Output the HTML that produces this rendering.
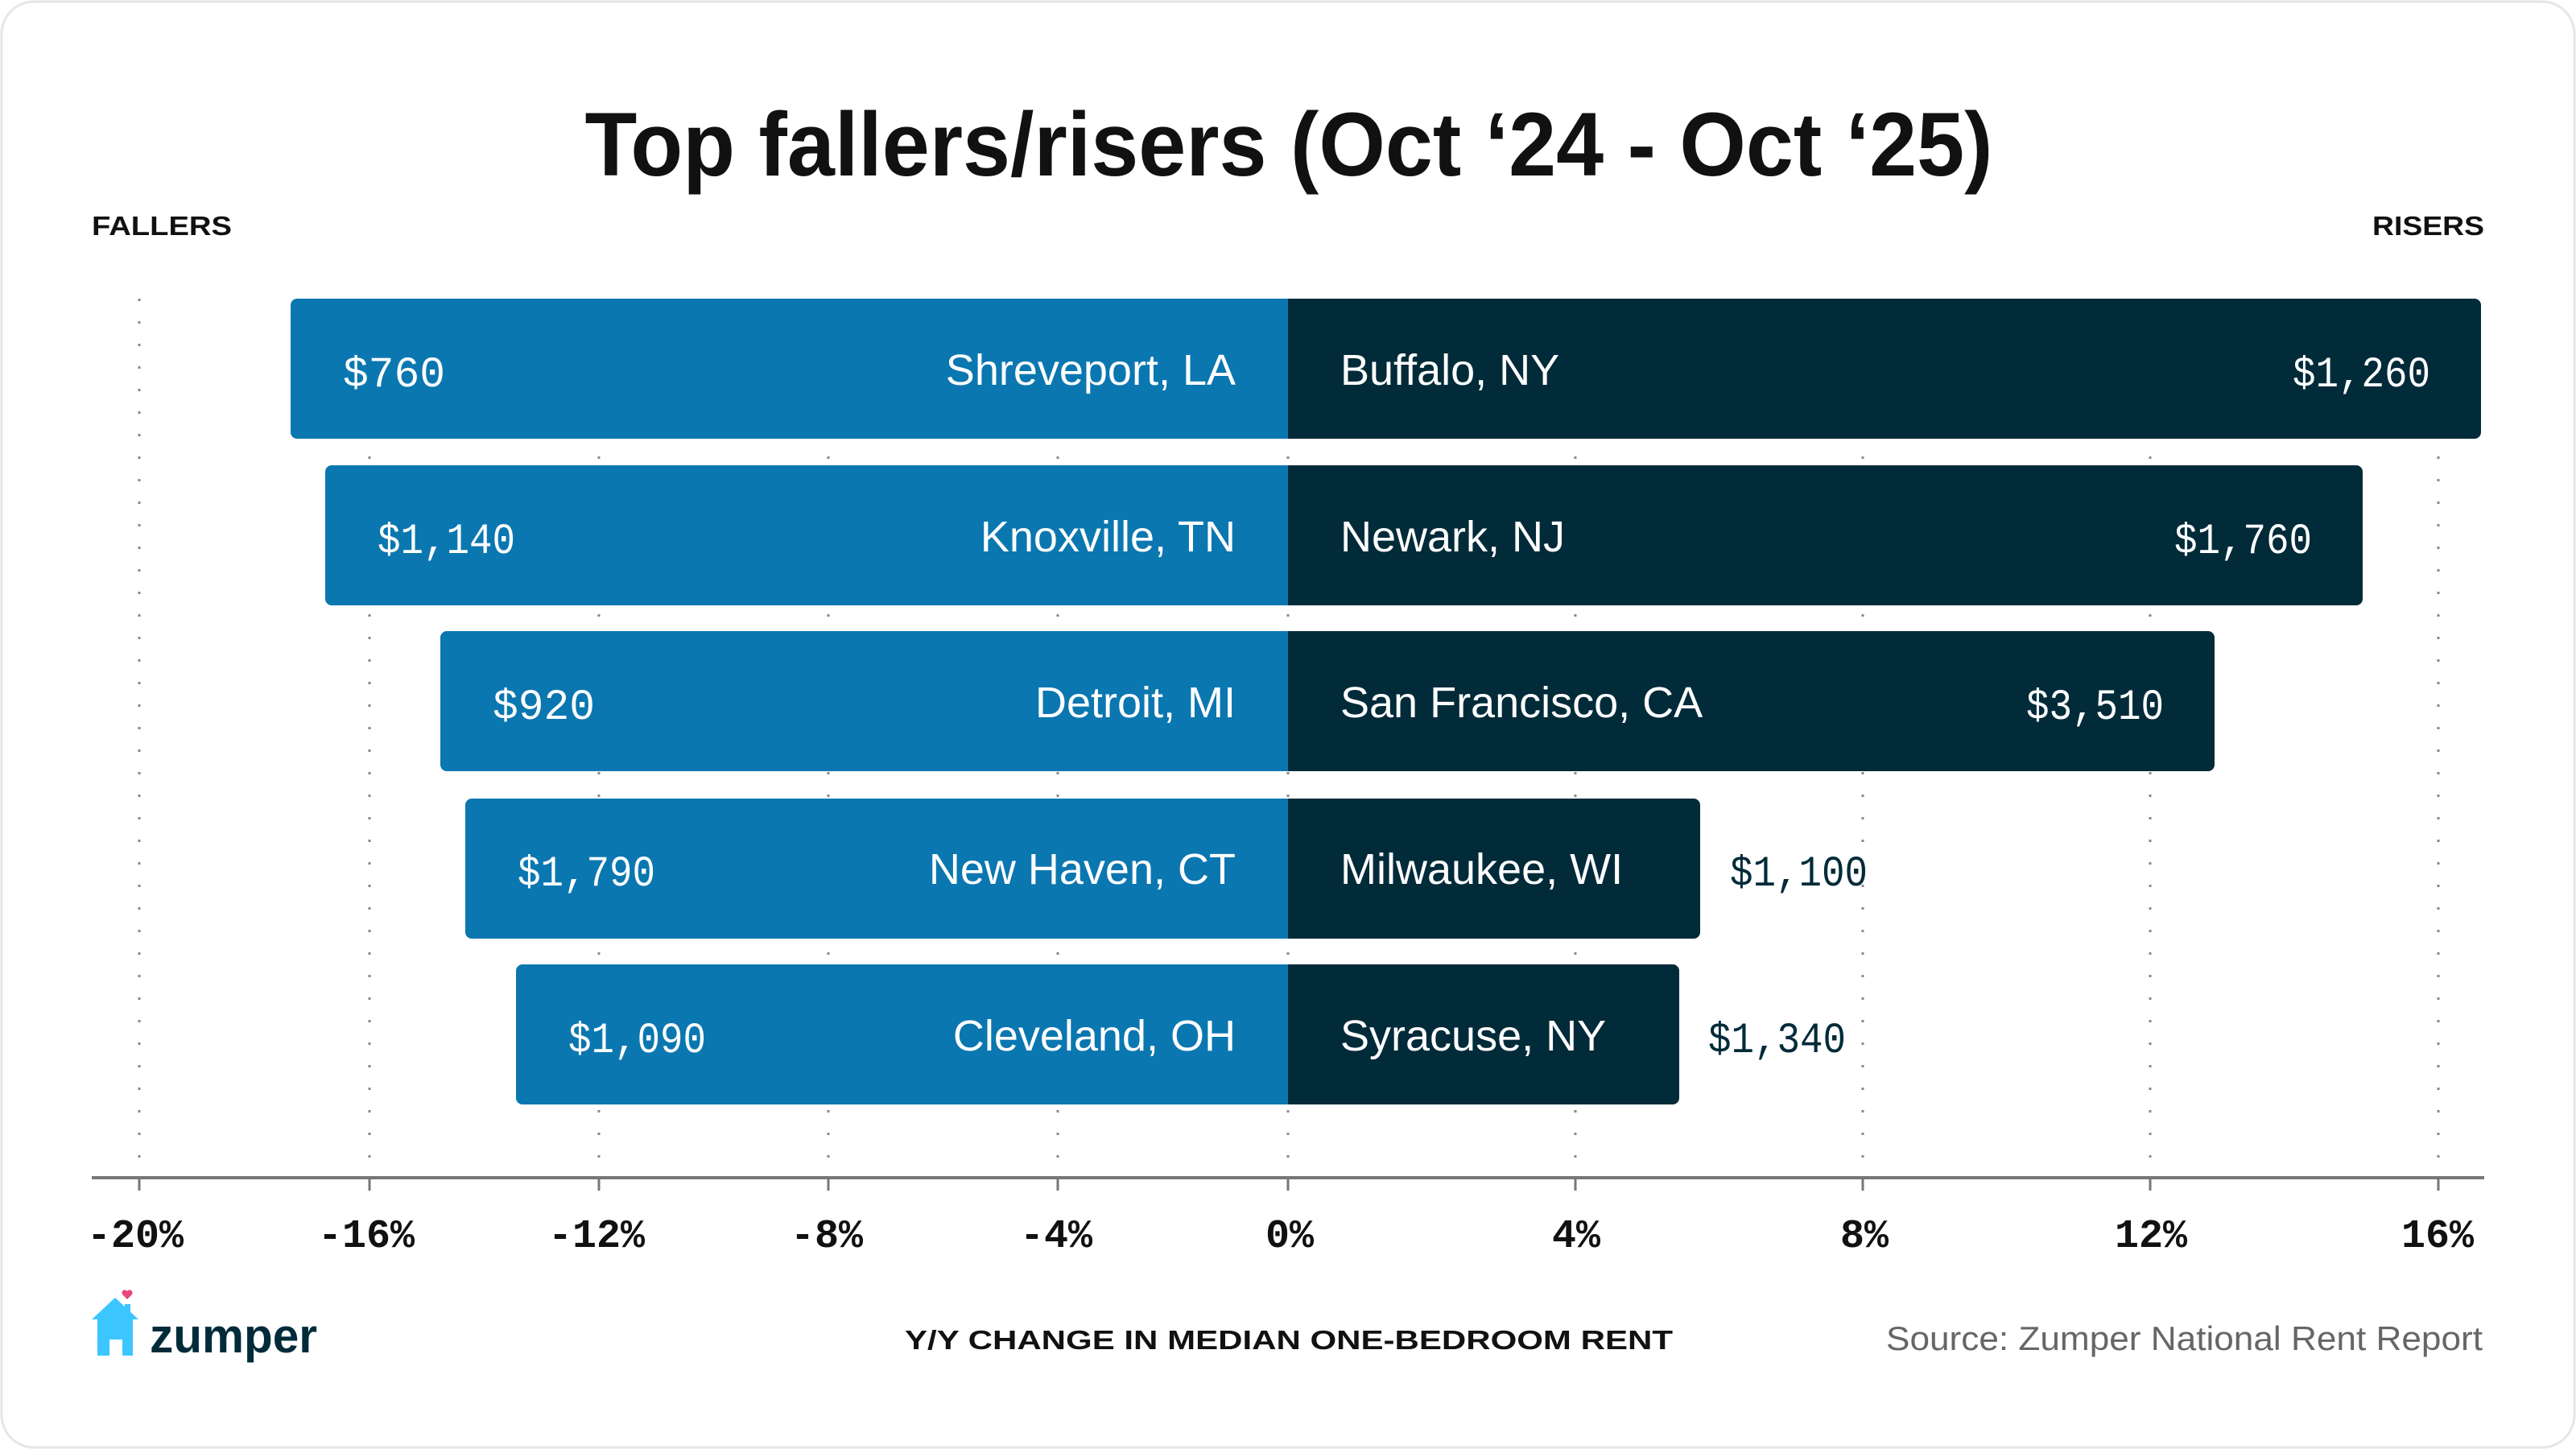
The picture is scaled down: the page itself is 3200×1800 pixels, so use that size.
<!DOCTYPE html>
<html><head><meta charset="utf-8"><style>
html,body{margin:0;padding:0;background:#fff;}
svg{display:block;}
</style></head><body>
<svg width="3200" height="1800" viewBox="0 0 3200 1800" xmlns="http://www.w3.org/2000/svg">
<rect x="2" y="2" width="3196" height="1796" rx="40" fill="#fff" stroke="#e6e6e6" stroke-width="3"/>
<text x="1601" y="218" text-anchor="middle" font-family="Liberation Sans, sans-serif" font-size="112" font-weight="bold" fill="#111" textLength="1749" lengthAdjust="spacingAndGlyphs">Top fallers/risers (Oct ‘24 - Oct ‘25)</text>
<text x="114" y="292" font-family="Liberation Sans, sans-serif" font-size="33" font-weight="bold" fill="#111" textLength="174" lengthAdjust="spacingAndGlyphs">FALLERS</text>
<text x="3086" y="292" text-anchor="end" font-family="Liberation Sans, sans-serif" font-size="33" font-weight="bold" fill="#111" textLength="139" lengthAdjust="spacingAndGlyphs">RISERS</text>
<g stroke="#888" stroke-width="3" stroke-dasharray="3 25" fill="none">
<line x1="173" y1="371" x2="173" y2="1460"/><line x1="459" y1="371" x2="459" y2="1460"/><line x1="744" y1="371" x2="744" y2="1460"/><line x1="1029" y1="371" x2="1029" y2="1460"/><line x1="1314" y1="371" x2="1314" y2="1460"/><line x1="1600" y1="371" x2="1600" y2="1460"/><line x1="1957" y1="371" x2="1957" y2="1460"/><line x1="2314" y1="371" x2="2314" y2="1460"/><line x1="2671" y1="371" x2="2671" y2="1460"/><line x1="3029" y1="371" x2="3029" y2="1460"/>
</g>
<g fill="#0b77b0">
<rect x="361" y="371" width="1250" height="174" rx="8"/>
<rect x="404" y="578" width="1207" height="174" rx="8"/>
<rect x="547" y="784" width="1064" height="174" rx="8"/>
<rect x="578" y="992" width="1033" height="174" rx="8"/>
<rect x="641" y="1198" width="970" height="174" rx="8"/>
</g>
<g fill="#022b3a">
<rect x="1600" y="371" width="1482" height="174" rx="8"/><rect x="1600" y="371" width="20" height="174"/>
<rect x="1600" y="578" width="1335" height="174" rx="8"/><rect x="1600" y="578" width="20" height="174"/>
<rect x="1600" y="784" width="1151" height="174" rx="8"/><rect x="1600" y="784" width="20" height="174"/>
<rect x="1600" y="992" width="512" height="174" rx="8"/><rect x="1600" y="992" width="20" height="174"/>
<rect x="1600" y="1198" width="486" height="174" rx="8"/><rect x="1600" y="1198" width="20" height="174"/>
</g>
<g font-family="Liberation Sans, sans-serif" font-size="54" fill="#fff">
<text x="1535" y="478" text-anchor="end">Shreveport, LA</text>
<text x="1535" y="685" text-anchor="end">Knoxville, TN</text>
<text x="1535" y="891" text-anchor="end">Detroit, MI</text>
<text x="1535" y="1098" text-anchor="end">New Haven, CT</text>
<text x="1535" y="1305" text-anchor="end">Cleveland, OH</text>
<text x="1665" y="478">Buffalo, NY</text>
<text x="1665" y="685">Newark, NJ</text>
<text x="1665" y="891">San Francisco, CA</text>
<text x="1665" y="1098">Milwaukee, WI</text>
<text x="1665" y="1305">Syracuse, NY</text>
</g>
<g font-family="Liberation Mono, monospace" font-size="54" fill="#fff" lengthAdjust="spacingAndGlyphs">
<text x="426" y="480" textLength="127" lengthAdjust="spacingAndGlyphs">$760</text>
<text x="469" y="687" textLength="171" lengthAdjust="spacingAndGlyphs">$1,140</text>
<text x="612" y="893" textLength="127" lengthAdjust="spacingAndGlyphs">$920</text>
<text x="643" y="1100" textLength="171" lengthAdjust="spacingAndGlyphs">$1,790</text>
<text x="706" y="1307" textLength="171" lengthAdjust="spacingAndGlyphs">$1,090</text>
<text x="2848" y="480" textLength="171" lengthAdjust="spacingAndGlyphs">$1,260</text>
<text x="2701" y="687" textLength="171" lengthAdjust="spacingAndGlyphs">$1,760</text>
<text x="2517" y="893" textLength="171" lengthAdjust="spacingAndGlyphs">$3,510</text>
<text x="2149" y="1100" fill="#022b3a" textLength="171" lengthAdjust="spacingAndGlyphs">$1,100</text>
<text x="2122" y="1307" fill="#022b3a" textLength="171" lengthAdjust="spacingAndGlyphs">$1,340</text>
</g>
<line x1="114" y1="1463" x2="3086" y2="1463" stroke="#777" stroke-width="4"/>
<g stroke="#777" stroke-width="3">
<line x1="173" y1="1463" x2="173" y2="1479"/><line x1="459" y1="1463" x2="459" y2="1479"/><line x1="744" y1="1463" x2="744" y2="1479"/><line x1="1029" y1="1463" x2="1029" y2="1479"/><line x1="1314" y1="1463" x2="1314" y2="1479"/><line x1="1600" y1="1463" x2="1600" y2="1479"/><line x1="1957" y1="1463" x2="1957" y2="1479"/><line x1="2314" y1="1463" x2="2314" y2="1479"/><line x1="2671" y1="1463" x2="2671" y2="1479"/><line x1="3029" y1="1463" x2="3029" y2="1479"/>
</g>
<g font-family="Liberation Mono, monospace" font-size="50" font-weight="bold" fill="#111" text-anchor="middle">
<text x="168" y="1549">-20%</text><text x="455" y="1549">-16%</text><text x="741" y="1549">-12%</text><text x="1027" y="1549">-8%</text><text x="1312" y="1549">-4%</text><text x="1602" y="1549">0%</text><text x="1958" y="1549">4%</text><text x="2316" y="1549">8%</text><text x="2672" y="1549">12%</text><text x="3028" y="1549">16%</text>
</g>
<text x="1124" y="1676" font-family="Liberation Sans, sans-serif" font-size="33" font-weight="bold" fill="#111" textLength="954" lengthAdjust="spacingAndGlyphs">Y/Y CHANGE IN MEDIAN ONE-BEDROOM RENT</text>
<text x="3084" y="1677" text-anchor="end" font-family="Liberation Sans, sans-serif" font-size="42" fill="#666" textLength="741" lengthAdjust="spacingAndGlyphs">Source: Zumper National Rent Report</text>
<g>
<polygon points="114,1639 143,1612 172,1639 165,1639 165,1684 152,1684 152,1664 136,1664 136,1684 121,1684 121,1639" fill="#3cc6ff"/>
<rect x="155" y="1620" width="7" height="14" fill="#3cc6ff"/>
<path d="M158 1614 l-6 -6 a3.5 3.5 0 0 1 6 -4 a3.5 3.5 0 0 1 6 4 z" fill="#e8477a"/>
<text x="186" y="1680" font-family="Liberation Sans, sans-serif" font-size="60" font-weight="bold" fill="#022b3a" textLength="208" lengthAdjust="spacingAndGlyphs">zumper</text>
</g>
</svg>
</body></html>
